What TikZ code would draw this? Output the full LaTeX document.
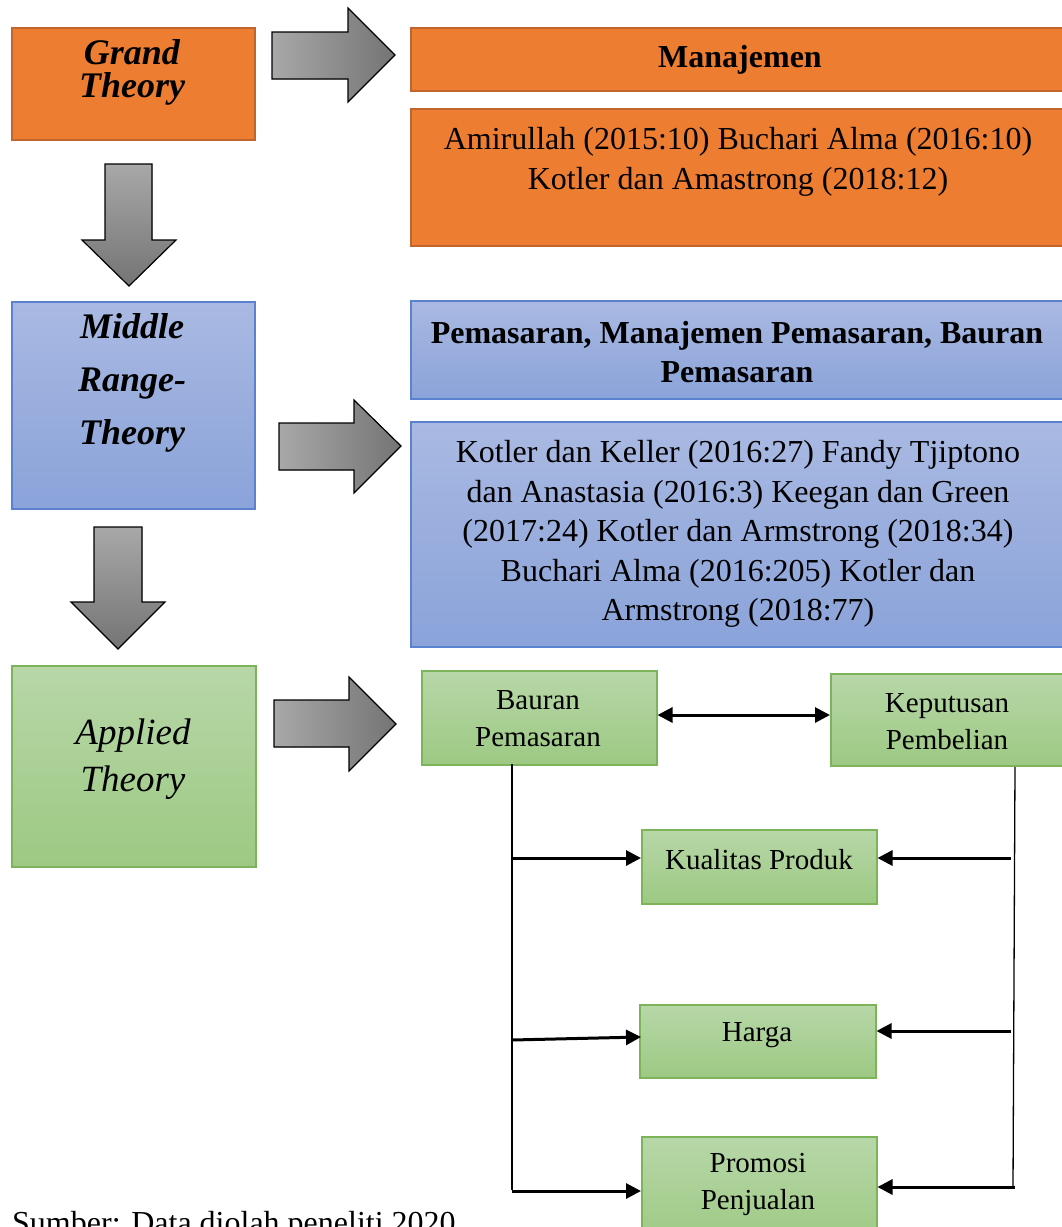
\documentclass[tikz,border=0pt]{standalone}
\usepackage{fontspec}
\setmainfont{Liberation Serif}
\usetikzlibrary{arrows.meta}
\definecolor{orfill}{HTML}{ED7D31}
\definecolor{ordraw}{HTML}{C2652C}
\definecolor{blutop}{HTML}{A9B9E2}
\definecolor{blubot}{HTML}{8AA3D9}
\definecolor{bludraw}{HTML}{5B82CF}
\definecolor{grntop}{HTML}{B7D7A8}
\definecolor{grnbot}{HTML}{9DC983}
\definecolor{grndraw}{HTML}{7DB45A}
\definecolor{arlight}{HTML}{A8A8A8}
\definecolor{ardark}{HTML}{747474}
\begin{document}
\begin{tikzpicture}[x=1pt,y=-1pt,
  boxbase/.style={anchor=north west, inner sep=0pt, line width=1.5pt},
  orbox/.style={boxbase, draw=ordraw, fill=orfill},
  blbox/.style={boxbase, draw=bludraw, top color=blutop, bottom color=blubot},
  gnbox/.style={boxbase, draw=grndraw, top color=grntop, bottom color=grnbot},
  tx/.style={inner sep=0pt, align=center, font=\fontsize{32}{40}\selectfont},
  txb/.style={tx, font=\fontsize{32}{39}\selectfont\bfseries},
  txs/.style={inner sep=0pt, align=center, font=\fontsize{29}{37}\selectfont},
  bigar/.style={draw=black, line width=1.2pt, left color=arlight, right color=ardark},
  bigdn/.style={draw=black, line width=1.2pt, top color=arlight, bottom color=ardark},
  tip/.style={Triangle[length=15pt,width=15pt]},
  conn/.style={line width=3pt, -{Triangle[length=15pt,width=15pt]}},
  thin/.style={line width=1.3pt}]
\clip (0,0) rectangle (1062,1227);
\fill[white] (0,0) rectangle (1062,1227);

% left column boxes
\node[orbox, minimum width=243pt, minimum height=112pt] (gt) at (11,27) {};
\node[blbox, minimum width=243pt, minimum height=207pt] (mr) at (11,301) {};
\node[gnbox, minimum width=244pt, minimum height=201pt] (ap) at (11,665) {};
\node[inner sep=0pt, align=center, font=\fontsize{36}{33}\selectfont\bfseries\itshape] at (132,72) {Grand\\Theory};
\node[inner sep=0pt, align=center, font=\fontsize{36}{53}\selectfont\bfseries\itshape] at (132,383) {Middle\\Range-\\Theory};
\node[inner sep=0pt, align=center, font=\fontsize{37}{47}\selectfont\itshape] at (133,759) {Applied\\Theory};

% right column boxes
\node[orbox, minimum width=656pt, minimum height=63pt] (mj) at (410,27) {};
\node[orbox, minimum width=656pt, minimum height=137pt] (c1) at (410,108) {};
\node[blbox, minimum width=656pt, minimum height=98pt] (pm) at (410,300) {};
\node[blbox, minimum width=656pt, minimum height=225pt] (c2) at (410,421) {};
\node[txb] at (740,60) {Manajemen};
\node[tx] at (738,162) {Amirullah (2015:10) Buchari Alma (2016:10)\\Kotler dan Amastrong (2018:12)};
\node[txb] at (737,352) {Pemasaran, Manajemen Pemasaran, Bauran\\Pemasaran};
\node[tx, font=\fontsize{32}{39.6}\selectfont] at (738,534) {Kotler dan Keller (2016:27) Fandy Tjiptono\\dan Anastasia (2016:3) Keegan dan Green\\(2017:24) Kotler dan Armstrong (2018:34)\\Buchari Alma (2016:205) Kotler dan\\Armstrong (2018:77)};

% big block arrows
\filldraw[bigar] (272,32) -- (348,32) -- (348,8) -- (395,55) -- (348,102) -- (348,79) -- (272,79) -- cycle;
\filldraw[bigdn] (105,164) -- (152,164) -- (152,240) -- (176,240) -- (129,286) -- (82,240) -- (105,240) -- cycle;
\filldraw[bigar] (279,423) -- (354,423) -- (354,400) -- (401,446) -- (354,493) -- (354,470) -- (279,470) -- cycle;
\filldraw[bigdn] (94,527) -- (142,527) -- (142,602) -- (165,602) -- (118,649) -- (71,602) -- (94,602) -- cycle;
\filldraw[bigar] (274,700) -- (349,700) -- (349,677) -- (396,724) -- (349,771) -- (349,747) -- (274,747) -- cycle;

% applied theory model
\node[gnbox, minimum width=235pt, minimum height=94pt] (bp) at (421,670) {};
\node[gnbox, minimum width=236pt, minimum height=92pt] (kp) at (830,673) {};
\node[gnbox, minimum width=235pt, minimum height=74pt] (kq) at (641,829) {};
\node[gnbox, minimum width=236pt, minimum height=73pt] (hg) at (639,1004) {};
\node[gnbox, minimum width=235pt, minimum height=110pt] (pp) at (641,1136) {};
\node[txs] at (538,719) {Bauran\\Pemasaran};
\node[txs] at (947,722) {Keputusan\\Pembelian};
\node[txs] at (759,860) {Kualitas Produk};
\node[txs] at (757,1035) {Harga};
\node[txs] at (758,1184) {Promosi\\Penjualan};

\draw[line width=3pt, {Triangle[length=15pt,width=15pt]}-{Triangle[length=15pt,width=15pt]}] (bp.east |- 0,715) -- (kp.west |- 0,715);

\coordinate (lt) at (512,764);
\coordinate (lb) at (512,1190);
\coordinate (rt) at (1015,767);
\coordinate (rb) at (1013,1188);
\draw[thin] (lt) -- (lb);
\draw[thin] (rt) -- (rb);

\coordinate (l1) at (512,858);
\coordinate (l2) at (512,1040);
\coordinate (l3) at (512,1191);
\coordinate (r1) at (1011,858);
\coordinate (r2) at (1011,1031);
\coordinate (r3) at (1015,1187);
\draw[conn] (l1) -- (l1 -| kq.west);
\draw[conn] (l2) -- (kq.west |- 0,1037);
\draw[conn] (l3) -- (l3 -| pp.west);
\draw[conn] (r1) -- (r1 -| kq.east);
\draw[conn] (r2) -- (r2 -| hg.east);
\draw[conn] (r3) -- (r3 -| pp.east);

% caption
\node[anchor=base west, inner sep=0pt, font=\fontsize{32}{40}\selectfont] (cap) at (12,1233) {Sumber: Data diolah peneliti 2020};
\end{tikzpicture}
\end{document}
